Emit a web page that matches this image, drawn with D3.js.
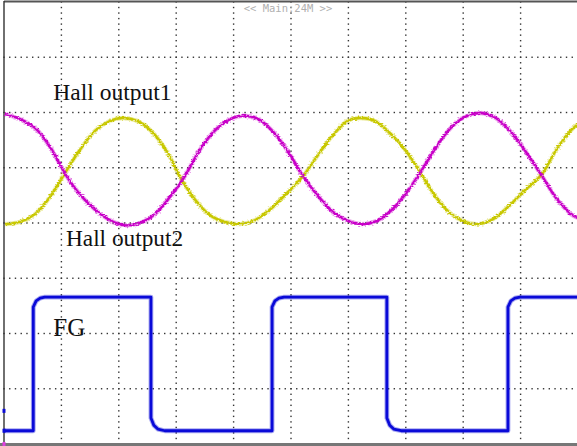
<!DOCTYPE html>
<html>
<head>
<meta charset="utf-8">
<script src="https://cdn.jsdelivr.net/npm/d3@7"></script>
<style>
  html, body { margin: 0; padding: 0; background: #fff; }
  svg { display: block; }
</style>
</head>
<body>
<script>
// Time in divisions (10 across), amplitude in divisions (+4 top, -4 bottom).
const hall1 = [
  [0.02, 1.97], [0.28, 1.88], [0.54, 1.72], [0.80, 1.38], [1.06, 0.90], [1.32, 0.52],
  [1.59, 0.24], [1.85, 0.05], [2.09, -0.04], [2.37, 0.00], [2.63, 0.16], [2.89, 0.47],
  [3.14, 0.83], [3.41, 1.32], [3.68, 1.68], [3.94, 1.88], [4.16, 1.94], [4.43, 1.88],
  [4.69, 1.65], [4.95, 1.29], [5.21, 0.85], [5.47, 0.49], [5.73, 0.20], [5.99, 0.04],
  [6.24, -0.02], [6.50, 0.04], [6.76, 0.24], [7.02, 0.56], [7.28, 0.96], [7.54, 1.39],
  [7.80, 1.74], [8.07, 1.94], [8.31, 1.99], [8.57, 1.90], [8.83, 1.65], [9.09, 1.29],
  [9.36, 0.87], [9.62, 0.45], [9.88, 0.16], [10.0, 0.09]
];
const hall2 = [
  [0.02, -0.02], [0.28, 0.02], [0.54, 0.16], [0.80, 0.47], [1.06, 0.90], [1.32, 1.32],
  [1.59, 1.67], [1.85, 1.85], [2.06, 1.90], [2.32, 1.85], [2.58, 1.65], [2.84, 1.29],
  [3.07, 0.83], [3.33, 0.42], [3.59, 0.14], [3.85, 0.02], [4.11, -0.02], [4.37, 0.05],
  [4.63, 0.24], [4.90, 0.51], [5.21, 0.85], [5.47, 1.23], [5.73, 1.59], [5.99, 1.85],
  [6.20, 1.90], [6.46, 1.85], [6.72, 1.63], [6.99, 1.32], [7.25, 0.92], [7.51, 0.49],
  [7.77, 0.18], [8.03, 0.02], [8.26, -0.02], [8.52, 0.07], [8.78, 0.29], [9.04, 0.56],
  [9.36, 0.87], [9.62, 1.32], [9.88, 1.68], [10.0, 1.79]
];
const fg = [
  [0.00, -3.76], [0.51, -3.76], [0.51, -1.52], [0.56, -1.41], [0.63, -1.36], [0.71, -1.34],
  [2.56, -1.34], [2.56, -3.53], [2.61, -3.66], [2.68, -3.73], [2.80, -3.76],
  [4.67, -3.76], [4.67, -1.52], [4.72, -1.41], [4.79, -1.36], [4.88, -1.34],
  [6.67, -1.34], [6.67, -3.53], [6.72, -3.66], [6.79, -3.73], [6.92, -3.76],
  [8.78, -3.76], [8.78, -1.52], [8.83, -1.41], [8.90, -1.36], [8.99, -1.34],
  [10.0, -1.34]
];
const traceLabels = ["Hall output1", "Hall output2", "FG"];
const statusText = "<< Main:24M >>";
const xDivisions = d3.range(1, 10);
const yDivisions = d3.range(-3, 4);

const W = 577, H = 446;
const svg = d3.select("body").append("svg").attr("width", W).attr("height", H);

// fine fuzz on the analog traces, like a sampled scope signal
const defs = svg.append("defs");
const fuzz = defs.append("filter").attr("id", "fuzz")
  .attr("x", "-5%").attr("y", "-10%").attr("width", "110%").attr("height", "120%");
fuzz.append("feTurbulence").attr("type", "fractalNoise")
  .attr("baseFrequency", "0.45 0.9").attr("numOctaves", 1).attr("seed", 3).attr("result", "n");
fuzz.append("feDisplacementMap").attr("in", "SourceGraphic").attr("in2", "n")
  .attr("scale", 4).attr("xChannelSelector", "R").attr("yChannelSelector", "G");

const x = d3.scaleLinear().domain([0, 10]).range([4, 578]);
const y = d3.scaleLinear().domain([4, -4]).range([2, 444]);

// dotted graticule: one dot per tenth of a division
const grid = svg.append("g").attr("fill", "#333");
const xMinor = d3.range(0, 100.5, 1).map(i => i / 10);
const yMinor = d3.range(-40, 40.5, 1).map(i => i / 10);
xDivisions.forEach(d => {
  grid.selectAll(null).data(yMinor).join("rect")
    .attr("x", x(d) - 0.7).attr("y", v => y(v) - 0.7)
    .attr("width", 1.4).attr("height", 1.4);
});
yDivisions.forEach(d => {
  grid.selectAll(null).data(xMinor).join("rect")
    .attr("x", t => x(t) - 0.7).attr("y", y(d) - 0.7)
    .attr("width", 1.4).attr("height", 1.4);
});

// frame
svg.append("line").attr("x1", x(0)).attr("x2", W).attr("y1", 1.5).attr("y2", 1.5)
  .attr("stroke", "#555").attr("stroke-width", 2.2);
svg.append("line").attr("x1", x(0)).attr("x2", x(0)).attr("y1", 1).attr("y2", 444)
  .attr("stroke", "#333").attr("stroke-width", 1.4);
svg.append("line").attr("x1", 0).attr("x2", W).attr("y1", 444.5).attr("y2", 444.5)
  .attr("stroke", "#777").attr("stroke-width", 3);

// status text
svg.append("text").attr("x", x(5) - 3).attr("y", 11.5)
  .attr("text-anchor", "middle")
  .attr("font-family", "DejaVu Sans Mono").attr("font-size", 10.5)
  .attr("fill", "#b0b0b0").text(statusText);

const smooth = d3.line().x(d => x(d[0])).y(d => y(d[1])).curve(d3.curveCatmullRom);
const straight = d3.line().x(d => x(d[0])).y(d => y(d[1]));

function trace(data, gen, color, width, filtered) {
  const g = svg.append("g");
  if (filtered) g.attr("filter", "url(#fuzz)");
  g.append("path").attr("d", gen(data)).attr("fill", "none")
    .attr("stroke", color).attr("stroke-opacity", 0.35).attr("stroke-width", width + 2)
    .attr("stroke-linejoin", "round");
  g.append("path").attr("d", gen(data)).attr("fill", "none")
    .attr("stroke", color).attr("stroke-width", width)
    .attr("stroke-linejoin", "round");
}
trace(hall2, smooth, "#c8c800", 2.4, true);
trace(hall1, smooth, "#c800c8", 2.4, true);
trace(fg, straight, "#0a0ad8", 2.8, false);

// channel markers on the left edge
svg.append("rect").attr("x", 2.5).attr("y", y(-3.4) - 2).attr("width", 3).attr("height", 4).attr("fill", "#0a0ad8");
svg.append("rect").attr("x", 2.5).attr("y", y(-3.76) - 2).attr("width", 3).attr("height", 4).attr("fill", "#0a0ad8");
svg.append("rect").attr("x", 2.5).attr("y", 442).attr("width", 3).attr("height", 4).attr("fill", "#e040e0");

// trace labels
const labelPos = [[0.86, 2.23], [1.08, -0.41], [0.86, -2.05]];
const labelSize = [23.5, 23.3, 25];
svg.selectAll("text.lbl").data(traceLabels).join("text")
  .attr("class", "lbl")
  .attr("x", (d, i) => x(labelPos[i][0]))
  .attr("y", (d, i) => y(labelPos[i][1]))
  .attr("font-family", "Liberation Serif").attr("font-size", (d, i) => labelSize[i])
  .attr("fill", "#111").text(d => d);
</script>
</body>
</html>
